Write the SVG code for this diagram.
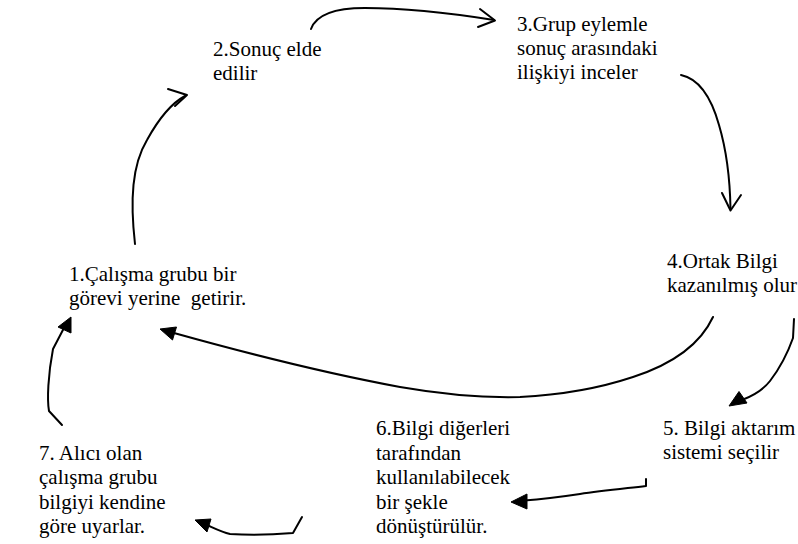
<svg xmlns="http://www.w3.org/2000/svg" width="798" height="544" viewBox="0 0 798 544">
<style>
text{font-family:'Liberation Serif','Times New Roman',Tinos,'DejaVu Serif',serif;font-size:21px;fill:#000}
.ln{fill:none;stroke:#000;stroke-width:2;stroke-linecap:round;stroke-linejoin:round}
.tri{fill:#000;stroke:#000;stroke-width:1;stroke-linejoin:round}
</style>
<rect width="798" height="544" fill="#fff"/>
<g id="node1" font-family="Liberation Serif, serif"><text x="69" y="281">1.Çalışma grubu bir</text><text x="69" y="305" xml:space="preserve">görevi yerine  getirir.</text></g>
<g id="node2"><text x="213" y="56">2.Sonuç elde</text><text x="213" y="80">edilir</text></g>
<g id="node3"><text x="517" y="31">3.Grup eylemle</text><text x="517" y="55">sonuç arasındaki</text><text x="517" y="79">ilişkiyi inceler</text></g>
<g id="node4"><text x="667" y="268">4.Ortak Bilgi</text><text x="667" y="292">kazanılmış olur</text></g>
<g id="node5"><text x="663" y="435">5. Bilgi aktarım</text><text x="663" y="459">sistemi seçilir</text></g>
<g id="node6"><text x="376" y="435">6.Bilgi diğerleri</text><text x="376" y="459.5">tarafından</text><text x="376" y="484">kullanılabilecek</text><text x="376" y="508.5">bir şekle</text><text x="376" y="533">dönüştürülür.</text></g>
<g id="node7"><text x="39" y="459.5">7. Alıcı olan</text><text x="39" y="484">çalışma grubu</text><text x="39" y="508.5">bilgiyi kendine</text><text x="39" y="533">göre uyarlar.</text></g>
<g id="connectors">
<path class="ln" d="M135,244 C130,200 132,165 147,140 C158,120 170,104 185,96"/>
<path class="ln" d="M168,89 L187,95 L175,106"/>
<path class="ln" d="M311,29 C316,15 335,8 365,8 C410,8 450,13 494,20"/>
<path class="ln" d="M480,9 L495,20.5 L478,27"/>
<path class="ln" d="M681,75 C700,79 712,100 719,125 C727,152 730,180 730.5,209"/>
<path class="ln" d="M722,193 L730.5,210.5 L741,195"/>
<path class="ln" d="M713,317 C700,345 670,365 633,377 C600,388 560,395 520,397 C480,398 440,394 400,387 C330,374 260,357 174,333"/>
<polygon class="tri" points="160,329 176.5,327 172.5,340"/>
<path class="ln" d="M794,319 L793,338 C787,355 780,368 770,381 C763,390 755,395 742,400"/>
<polygon class="tri" points="729,406 739,391.5 747,403"/>
<path class="ln" d="M646,479 L646,486 C620,489 600,491 580,494 C560,497 545,499 524,500.5"/>
<polygon class="tri" points="511,502 527,494 527,509"/>
<path class="ln" d="M302,517 L293,533 C270,535 245,535 230,534 C222,532 216,529 207,525"/>
<polygon class="tri" points="195,520 211,519 207,532"/>
<path class="ln" d="M62,425 L49,411 C47,400 48,375 53,349 L65,326"/>
<polygon class="tri" points="71,317 58,327 71,333"/>
</g>
</svg>
